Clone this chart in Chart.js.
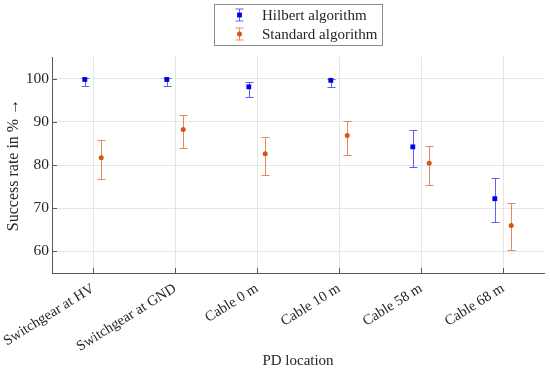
<!DOCTYPE html>
<html>
<head>
<meta charset="utf-8">
<script src="https://cdn.jsdelivr.net/npm/chart.js@4/dist/chart.umd.min.js"></script>
<style>
  html, body { margin: 0; padding: 0; background: #fff; }
  #wrap { width: 550px; height: 371px; }
</style>
</head>
<body>
<div id="wrap"><canvas id="chart" width="550" height="371"></canvas></div>
<script>
// categories and values
const categories = ['Switchgear at HV', 'Switchgear at GND', 'Cable 0 m', 'Cable 10 m', 'Cable 58 m', 'Cable 68 m'];
const hilbertMean = [99.8, 99.8, 98.1, 99.6, 84.2, 72.2];
const hilbertLow = [98.4, 98.4, 95.7, 98.0, 79.6, 66.7];
const hilbertHigh = [100.1, 100.1, 99.1, 100.0, 88.0, 77.1];
const standardMean = [81.7, 88.2, 82.6, 86.8, 80.4, 66.0];
const standardLow = [76.8, 84.0, 77.8, 82.4, 75.4, 60.3];
const standardHigh = [85.7, 91.5, 86.5, 90.2, 84.5, 71.2];
const yTicks = [60, 70, 80, 90, 100];

const blue = 'rgb(0,0,230)';
const blueBar = 'rgb(95,95,255)';
const orange = 'rgb(217,83,25)';
const orangeBar = 'rgb(232,135,90)';
const axisColor = '#5a5a5a';
const textColor = '#262626';

Chart.defaults.font.family = '"Liberation Serif", "DejaVu Serif", serif';
Chart.defaults.color = textColor;

function pts(mean, shift) {
    return mean.map((v, i) => ({ x: i + shift, y: v }));
}

const series = [
    { label: 'Hilbert algorithm', lo: hilbertLow, hi: hilbertHigh, bar: blueBar, color: blue, style: 'rect' },
    { label: 'Standard algorithm', lo: standardLow, hi: standardHigh, bar: orangeBar, color: orange, style: 'circle' }
];

// error bars behind the markers, plus inward tick marks and the boxed legend
const errorBars = {
    id: 'errorBars',
    beforeDatasetsDraw(chart) {
        const ctx = chart.ctx;
        const y = chart.scales.y;
        const area = chart.chartArea;
        ctx.save();
        ctx.strokeStyle = axisColor;
        ctx.lineWidth = 1;
        ctx.beginPath();
        chart.scales.x.ticks.forEach(t => {
            const px = Math.round(chart.scales.x.getPixelForValue(t.value)) + 0.5;
            ctx.moveTo(px, area.bottom);
            ctx.lineTo(px, area.bottom - 5);
        });
        y.ticks.forEach(t => {
            const py = Math.round(y.getPixelForValue(t.value)) + 0.5;
            ctx.moveTo(area.left, py);
            ctx.lineTo(area.left + 5, py);
        });
        ctx.stroke();

        chart.data.datasets.forEach((ds, di) => {
            const s = series[di];
            const meta = chart.getDatasetMeta(di);
            ctx.strokeStyle = s.bar;
            ctx.lineWidth = 1;
            ctx.beginPath();
            meta.data.forEach((el, i) => {
                const x = Math.round(el.x) + 0.5;
                const top = Math.round(y.getPixelForValue(s.hi[i])) + 0.5;
                const bot = Math.round(y.getPixelForValue(s.lo[i])) + 0.5;
                ctx.moveTo(x, top); ctx.lineTo(x, bot);
                ctx.moveTo(x - 4, top); ctx.lineTo(x + 4, top);
                ctx.moveTo(x - 4, bot); ctx.lineTo(x + 4, bot);
            });
            ctx.stroke();
        });
        ctx.restore();
    },
    afterDraw(chart) {
        const ctx = chart.ctx;
        ctx.save();
        ctx.strokeStyle = '#8c8c8c';
        ctx.lineWidth = 1;
        ctx.fillStyle = '#fff';
        ctx.fillRect(214.5, 4.5, 168, 41);
        ctx.strokeRect(214.5, 4.5, 168, 41);
        ctx.font = '15px "Liberation Serif", serif';
        ctx.textBaseline = 'middle';
        ctx.textAlign = 'left';
        series.forEach((s, i) => {
            const cy = 15 + i * 19;
            const cx = 239.5;
            ctx.strokeStyle = s.bar;
            ctx.beginPath();
            ctx.moveTo(cx, cy - 6); ctx.lineTo(cx, cy + 6);
            ctx.moveTo(cx - 4, cy - 6); ctx.lineTo(cx + 4, cy - 6);
            ctx.moveTo(cx - 4, cy + 6); ctx.lineTo(cx + 4, cy + 6);
            ctx.stroke();
            ctx.fillStyle = s.color;
            ctx.beginPath();
            if (s.style === 'rect') ctx.rect(cx - 2.4, cy - 2.4, 4.8, 4.8);
            else ctx.arc(cx, cy, 2.5, 0, Math.PI * 2);
            ctx.fill();
            ctx.fillStyle = textColor;
            ctx.fillText(s.label, 262, cy + 1);
        });
        ctx.restore();
    }
};

const ctx = document.getElementById('chart').getContext('2d');
const chart = new Chart(ctx, {
    type: 'scatter',
    data: {
        datasets: [
            { label: series[0].label, data: pts(hilbertMean, -0.1), pointStyle: 'rect', pointRadius: 3.4,
              backgroundColor: blue, borderColor: blue, borderWidth: 0 },
            { label: series[1].label, data: pts(standardMean, 0.1), pointStyle: 'circle', pointRadius: 2.5,
              backgroundColor: orange, borderColor: orange, borderWidth: 0 }
        ]
    },
    options: {
        responsive: false,
        animation: false,
        layout: { padding: { top: 57, right: 6, left: 0, bottom: 0 } },
        plugins: { legend: { display: false }, tooltip: { enabled: false } },
        scales: {
            x: {
                type: 'linear',
                min: -0.5,
                max: 5.5,
                afterBuildTicks: s => { s.ticks = categories.map((c, i) => ({ value: i })); },
                afterFit: s => { s.height = 98; s.paddingLeft = 0; s.paddingRight = 0; },
                grid: { color: '#e6e6e6', drawTicks: false },
                border: { color: axisColor, width: 1 },
                ticks: {
                    autoSkip: false,
                    minRotation: 32,
                    maxRotation: 32,
                    padding: 7,
                    font: { size: 14.5 },
                    callback: v => categories[v]
                },
                title: { display: true, text: 'PD location', font: { size: 15 }, padding: { top: 4, bottom: 1 } }
            },
            y: {
                min: 55,
                max: 105,
                afterBuildTicks: s => { s.ticks = yTicks.map(v => ({ value: v })); },
                afterFit: s => { s.width = 52; s.paddingTop = 0; s.paddingBottom = 0; },
                grid: { color: '#e6e6e6', drawTicks: false },
                border: { color: axisColor, width: 1 },
                ticks: { padding: 3, font: { size: 15.5 } },
                title: { display: true, text: 'Success rate in % →', font: { size: 16 }, padding: { top: 4, bottom: 0 } }
            }
        }
    },
    plugins: [errorBars]
});
</script>
</body>
</html>
